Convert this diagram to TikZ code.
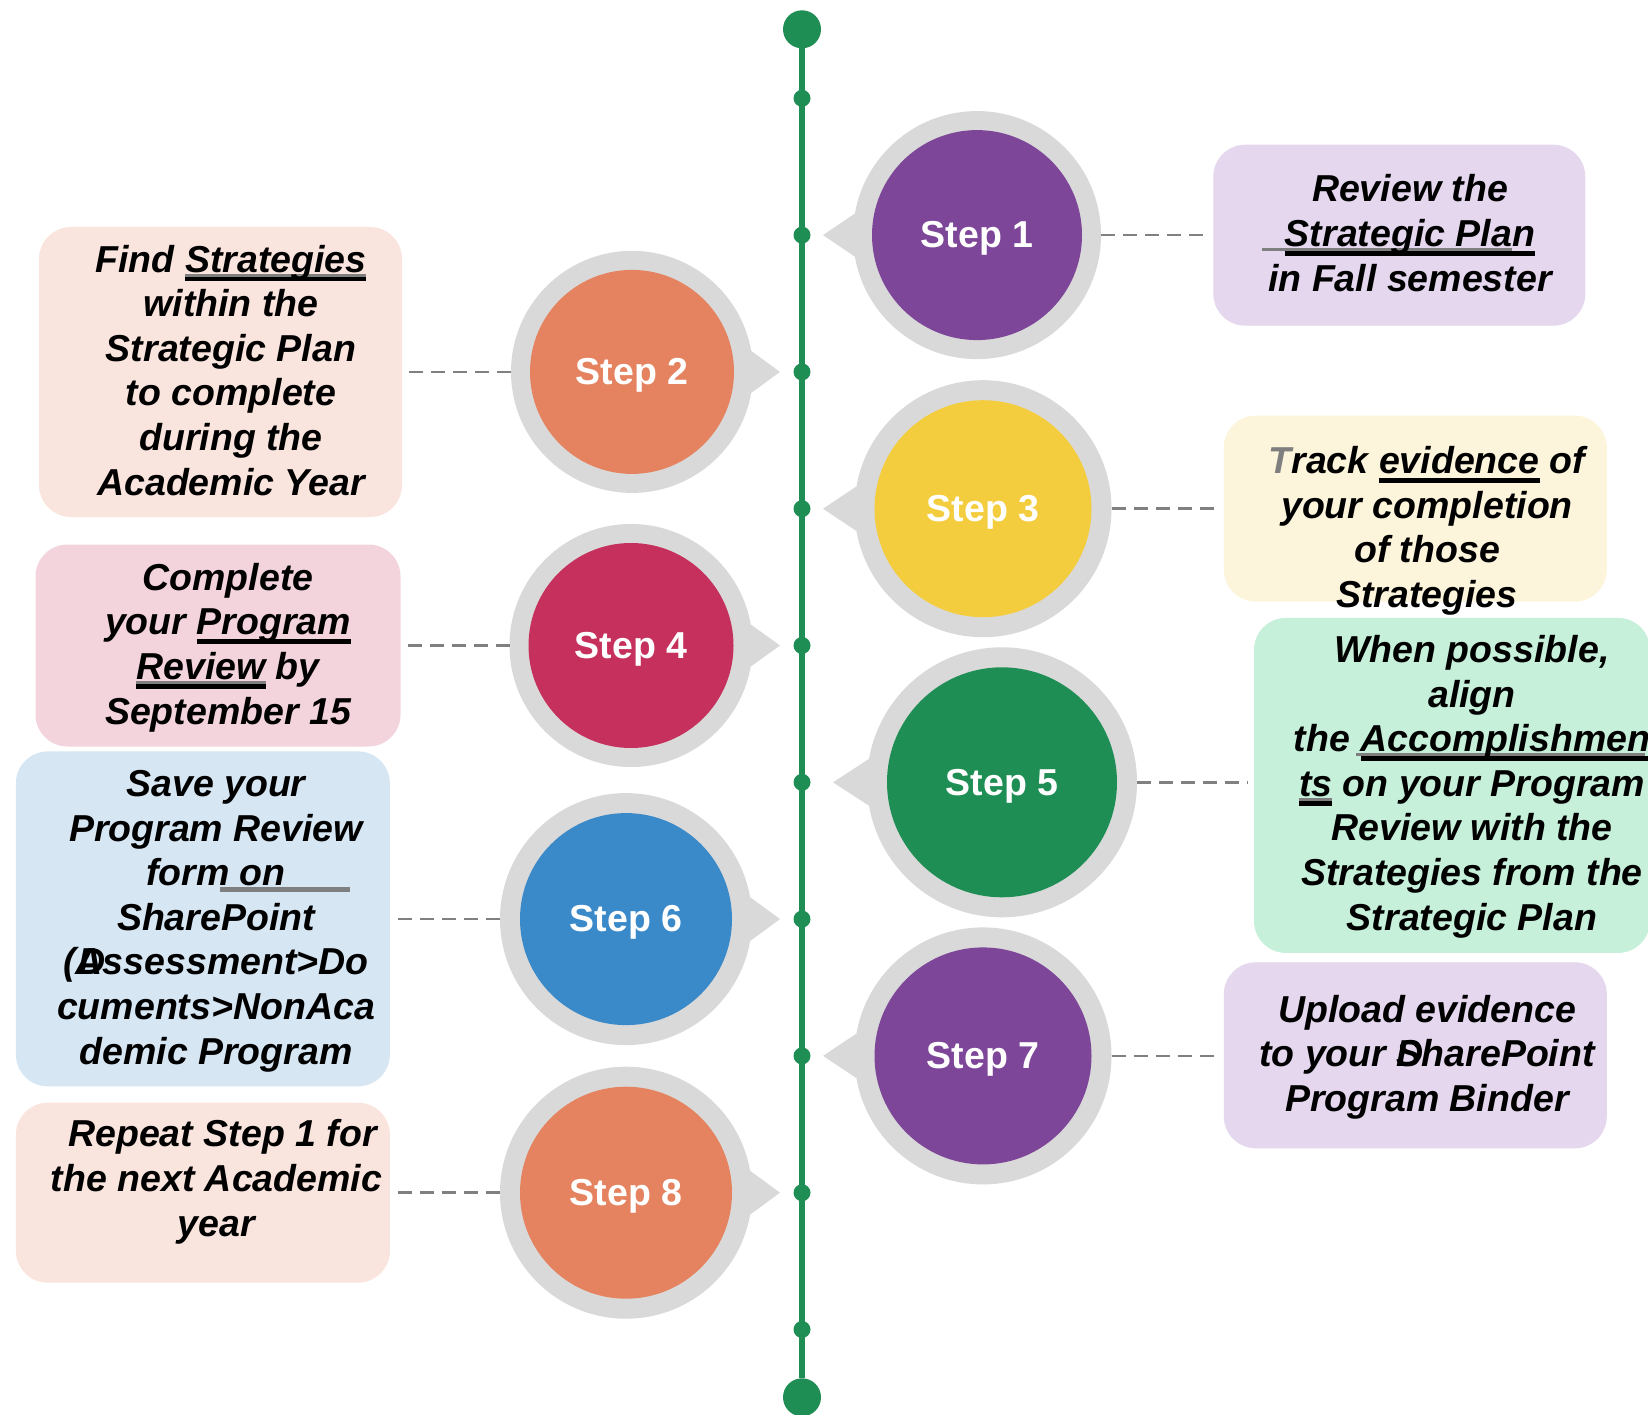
\documentclass[tikz,border=0pt]{standalone}
\usepackage{fontspec}
\setmainfont{Liberation Sans}
\definecolor{tlgreen}{HTML}{1E8E54}
\definecolor{ringgray}{HTML}{D9D9D9}
\definecolor{cpurple}{HTML}{7D4698}
\definecolor{corange}{HTML}{E58360}
\definecolor{cyellow}{HTML}{F4CD3E}
\definecolor{ccrimson}{HTML}{C5305C}
\definecolor{cgreen}{HTML}{1E8E54}
\definecolor{cblue}{HTML}{3A89C9}
\definecolor{blav}{HTML}{E4D7EE}
\definecolor{bpeach}{HTML}{FAE5DE}
\definecolor{bcream}{HTML}{FCF5DC}
\definecolor{bpink}{HTML}{F3D4DD}
\definecolor{bmint}{HTML}{C6F0DA}
\definecolor{bblue}{HTML}{D7E6F3}
\definecolor{ulgray}{HTML}{7F7F7F}
\definecolor{conngray}{HTML}{808080}
\newcommand\txtfont{\fontsize{37.5pt}{44.6pt}\selectfont\bfseries\itshape}
\newcommand\stepfont{\fontsize{37.5pt}{45pt}\selectfont\bfseries}
\newcommand\ulB[1]{\setbox0\hbox{#1}\rlap{\rule[-0.24em]{\wd0}{0.12em}}\box0\relax}
\newcommand\ulBG[2][0pt]{\setbox0\hbox{#2}\rlap{\kern#1\textcolor{ulgray}{\rule[-0.12em]{\wd0}{0.07em}}}\rlap{\rule[-0.25em]{\wd0}{0.13em}}\box0\relax}
\begin{document}
\begin{tikzpicture}[x=1pt,y=-1pt,
  ring/.style={circle, fill=ringgray, inner sep=0pt, outer sep=0pt},
  stepc/.style={circle, inner sep=0pt, outer sep=0pt, text=white, font=\stepfont, text height=25.5pt, text depth=0pt},
  box/.style={rectangle, rounded corners=32pt, inner sep=0pt, outer sep=0pt},
  txt/.style={font=\txtfont, align=center, anchor=base, inner sep=0pt},
  conn/.style={draw=conngray, line width=2.6pt, dash pattern=on 14pt off 8pt},
  bigdot/.style={circle, fill=tlgreen, inner sep=0pt, minimum size=38pt},
  smalldot/.style={circle, fill=tlgreen, inner sep=0pt, minimum size=17pt}]
\path[fill=white, use as bounding box] (0,0) rectangle (1648,1415);

% timeline
\node[bigdot] (ttop) at (802,29.3) {};
\node[bigdot] (tbot) at (802,1397.3) {};
\draw[tlgreen, line width=6pt] (ttop) -- (tbot);
\foreach \k in {0,...,9} \node[smalldot] (d\k) at (802,{98.3+136.8*\k}) {};

% boxes
\node[box, fill=blav,   minimum width=372pt, minimum height=181pt] (b1) at (1399.3,235.2) {};
\node[box, fill=bpeach, minimum width=363pt, minimum height=290pt] (b2) at (220.5,372) {};
\node[box, fill=bcream, minimum width=383pt, minimum height=186pt] (b3) at (1415.3,508.6) {};
\node[box, fill=bpink,  minimum width=365pt, minimum height=202pt] (b4) at (218,645.5) {};
\node[box, fill=bmint,  minimum width=396pt, minimum height=335pt] (b5) at (1452,785.4) {};
\node[box, fill=bblue,  minimum width=374pt, minimum height=335pt] (b6) at (202.9,918.9) {};
\node[box, fill=blav,   minimum width=383pt, minimum height=186pt] (b7) at (1415.3,1055.3) {};
\node[box, fill=bpeach, minimum width=374pt, minimum height=180pt] (b8) at (202.9,1192.7) {};

% steps (right side)
\node[ring, minimum size=248pt] (r1) at (977,235.1) {};
\fill[ringgray] (r1.170) -- (823,235.1) -- (r1.190) -- cycle;
\node[stepc, fill=cpurple, minimum size=210pt] (s1) at (r1) {Step 1};

\node[ring, minimum size=257pt] (r3) at (983,508.7) {};
\fill[ringgray] (r3.170) -- (823,508.7) -- (r3.190) -- cycle;
\node[stepc, fill=cyellow, minimum size=217pt] (s3) at (r3) {Step 3};

\node[ring, minimum size=270pt] (r5) at (1002,782.3) {};
\fill[ringgray] (r5.170) -- (833,782.3) -- (r5.190) -- cycle;
\node[stepc, fill=cgreen, minimum size=230pt] (s5) at (r5) {Step 5};

\node[ring, minimum size=257pt] (r7) at (983,1055.9) {};
\fill[ringgray] (r7.170) -- (823,1055.9) -- (r7.190) -- cycle;
\node[stepc, fill=cpurple, minimum size=217pt] (s7) at (r7) {Step 7};

% steps (left side)
\node[ring, minimum size=242pt] (r2) at (632,371.9) {};
\fill[ringgray] (r2.10) -- (780,371.9) -- (r2.-10) -- cycle;
\node[stepc, fill=corange, minimum size=204pt] (s2) at (r2) {Step 2};

\node[ring, minimum size=243pt] (r4) at (631,645.5) {};
\fill[ringgray] (r4.10) -- (780,645.5) -- (r4.-10) -- cycle;
\node[stepc, fill=ccrimson, minimum size=205pt] (s4) at (r4) {Step 4};

\node[ring, minimum size=252pt] (r6) at (626,919.1) {};
\fill[ringgray] (r6.10) -- (780,919.1) -- (r6.-10) -- cycle;
\node[stepc, fill=cblue, minimum size=212pt] (s6) at (r6) {Step 6};

\node[ring, minimum size=252pt] (r8) at (626,1192.7) {};
\fill[ringgray] (r8.10) -- (780,1192.7) -- (r8.-10) -- cycle;
\node[stepc, fill=corange, minimum size=212pt] (s8) at (r8) {Step 8};

% connectors
\draw[conn, shorten >=4pt] (r1.east) -- (r1.east -| b1.west);
\draw[conn, shorten >=5pt] (r3.east) -- (r3.east -| b3.west);
\draw[conn, shorten >=6pt] (r5.east) -- (r5.east -| b5.west);
\draw[conn, shorten >=5pt] (r7.east) -- (r7.east -| b7.west);
\draw[conn, shorten >=6pt] (r2.west) -- (r2.west -| b2.east);
\draw[conn, shorten >=6pt] (r4.west) -- (r4.west -| b4.east);
\draw[conn, shorten >=4pt] (r6.west) -- (r6.west -| b6.east);
\draw[conn, shorten >=4pt] (r8.west) -- (r8.west -| b8.east);

% texts (anchor = baseline of last line)
\node[txt] (t1) at (1410,291) {Review the\\\ulBG[-23pt]{Strategic Plan}\\in Fall semester};
\node[txt] (t2) at (231,495) {Find \ulBG{Strategies}\\within the\\Strategic Plan\\to complete\\during the\\Academic Year};
\node[txt] (t3) at (1427,607.5) {{\color{ulgray}T}rack \ulB{evidence} of\\your completion\\of those\\Strategies};
\node[txt] (t4) at (228,724) {Complete\\your \ulB{Program}\\\ulBG{Review} by\\September 15};
\node[txt] (t5) at (1472,930) {When possible,\\align\\the \ulBG[-5pt]{Accomplishmen}\\\ulBG{ts} on your Program\\Review with the\\Strategies from the\\Strategic Plan};
\node[txt] (t6) at (216,1064) {Save your\\Program Review\\form\rlap{\kern-10pt\textcolor{ulgray}{\rule[-0.16em]{130pt}{0.11em}}} on\\SharePoint\\(\rlap{\kern3pt D}Assessment>Do\\cuments>NonAca\\demic Program};
\node[txt] (t7) at (1427,1111.5) {Upload evidence\\to your \rlap{D}SharePoint\\Program Binder};
\node[txt] (t8) at (216.5,1236) {\hspace*{12pt}Repeat Step 1 for\\the next Academic\\year};
\end{tikzpicture}
\end{document}
